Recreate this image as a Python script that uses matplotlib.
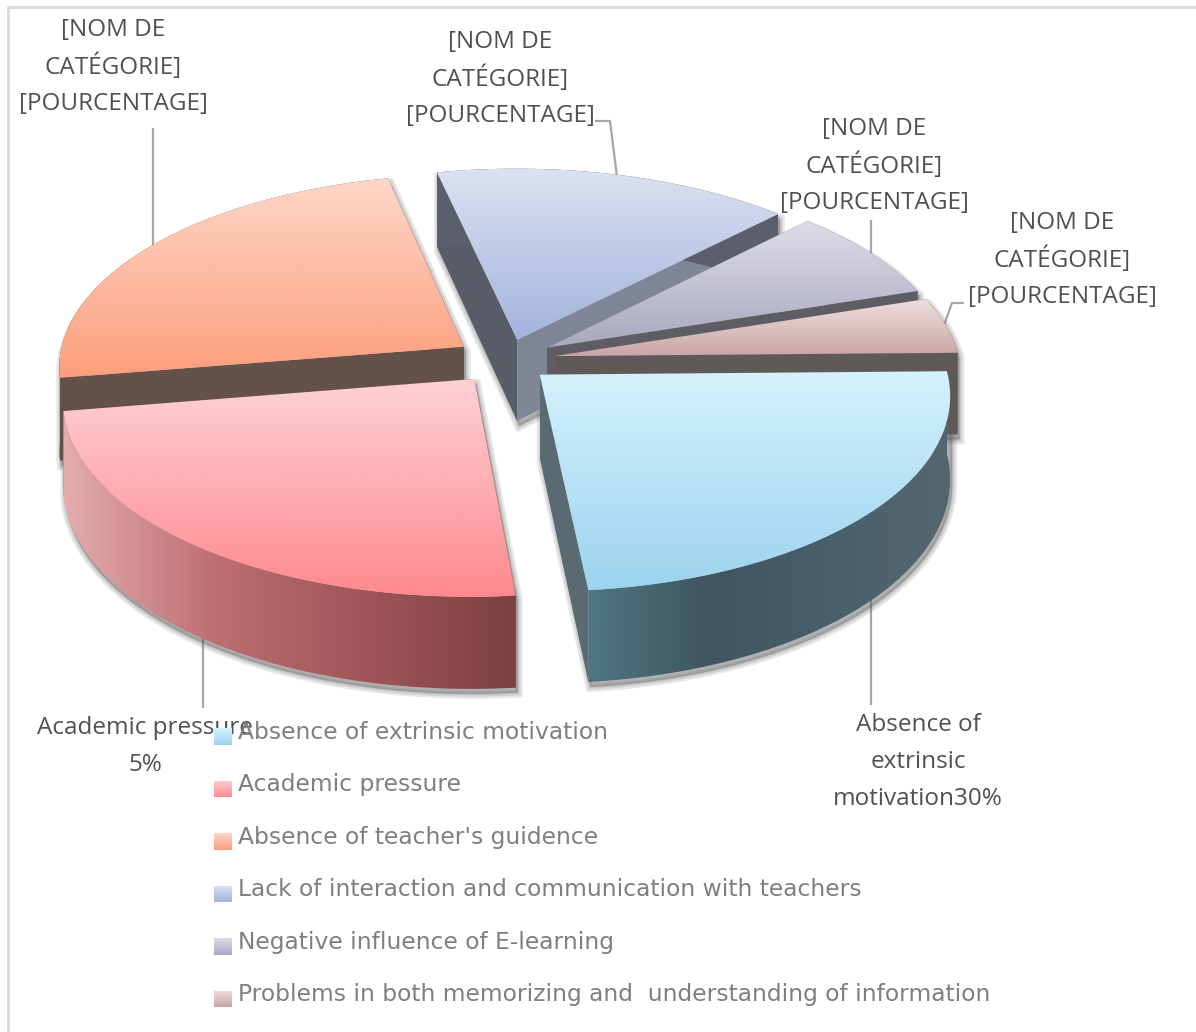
import numpy as np
import matplotlib
matplotlib.use('Agg')
import matplotlib.pyplot as plt
from matplotlib.colors import LinearSegmentedColormap
from matplotlib.path import Path

categories = ['Absence of extrinsic motivation', 'Academic pressure', "Absence of teacher's guidence",
              'Lack of interaction and communication with teachers', 'Negative influence of E-learning',
              'Problems in both memorizing and  understanding of information']
shares = [23.7, 24.0, 24.1, 15.8, 7.7, 4.7]

# the two filled-in captions are typed text, they are not computed from shares
labels = [['Absence of', 'extrinsic', 'motivation30%'],
          ['Academic pressure', '5%'],
          ['[NOM DE', 'CATÉGORIE]', '[POURCENTAGE]'],
          ['[NOM DE', 'CATÉGORIE]', '[POURCENTAGE]'],
          ['[NOM DE', 'CATÉGORIE]', '[POURCENTAGE]'],
          ['[NOM DE', 'CATÉGORIE]', '[POURCENTAGE]']]
label_x = [918, 145, 113, 500, 874, 1062]
label_y = [725, 728, 30, 42, 129, 223]

leaders = [[(871, 600), (871, 705)],
           [(203, 630), (203, 708)],
           [(153, 128), (153, 260)],
           [(595, 121), (610, 121), (618, 185)],
           [(871, 220), (871, 270)],
           [(964, 303), (952, 303), (943, 328)]]

explode = [46, 50, 50, 45, 50, 50]
top_colors = [('#d5f2fd', '#9cd3ee'), ('#fed2d5', '#fe898e'), ('#fdd7c8', '#fd9e7b'),
              ('#dce2f2', '#a3b3dc'), ('#dddde9', '#a8a8be'), ('#f0dfdf', '#c9a5a6')]
rim_colors = [['#507582', '#3f5661', '#47606b', '#57666e'],
              ['#e3adae', '#bd6f71', '#a05558', '#7c4142'],
              ['#64524a', '#64524a'], ['#5a5f6b', '#5a5f6b'],
              ['#5f5c64', '#5f5c64'], ['#5f5a58', '#5f5a58']]
wall_colors = [('#4a5a62', '#5a6a72'), ('#7c4142', '#8a5052'), ('#64524a', '#64524a'),
               ('#585d68', '#7f8695'), ('#5f5c64', '#5f5c64'), ('#5f5a58', '#5f5a58')]
draw_order = [3, 4, 5, 2, 0, 1]

CX, CY = 505, 360
RX, RY = 405, 192
PERSP = 0.10
DEPTH = 82
START = -1.0

fig = plt.figure(figsize=(11.96, 10.32), dpi=100)
ax = fig.add_axes([0, 0, 1, 1])
ax.set_axis_off()


def project(px, py, drop=0.0):
    # flat disc seen from the front, near side a little larger than the far side
    s = 1 / (1 - PERSP * py)
    return CX + RX * px * s, CY + (RY * py + drop) * s


def fill(points, colors, z, horizontal=False):
    points = np.array(points)
    x0, y0 = points.min(axis=0)
    x1, y1 = points.max(axis=0)
    cmap = LinearSegmentedColormap.from_list('face', list(colors))
    ramp = np.linspace(0, 1, 256)
    ramp = ramp.reshape(1, -1) if horizontal else ramp.reshape(-1, 1)
    im = ax.imshow(ramp, cmap=cmap, extent=(x0, x1, y1, y0), origin='upper', aspect='auto',
                   interpolation='bilinear', zorder=z)
    closed = np.vstack([points, points[0]])
    im.set_clip_path(Path(closed), ax.transData)


def hull(points):
    pts = sorted(set(map(tuple, np.round(points, 2))))

    def half(seq):
        out = []
        for p in seq:
            while len(out) > 1 and ((out[-1][0] - out[-2][0]) * (p[1] - out[-2][1])
                                    - (out[-1][1] - out[-2][1]) * (p[0] - out[-2][0])) <= 0:
                out.pop()
            out.append(p)
        return out[:-1]
    return np.array(half(pts) + half(pts[::-1]))


edges = START + np.cumsum([0] + shares) * 3.6
slices = []
for i in range(len(shares)):
    t0, t1 = edges[i], edges[i + 1]
    mid = np.radians((t0 + t1) / 2)
    ex = explode[i] / RX * np.cos(mid)
    ey = explode[i] / RX * np.sin(mid)
    ts = np.radians(np.linspace(t0, t1, 90))
    top = np.column_stack(project(ex + np.cos(ts), ey + np.sin(ts)))
    bottom = np.column_stack(project(ex + np.cos(ts), ey + np.sin(ts), DEPTH))
    slices.append(dict(top=top, bottom=bottom, apex=project(ex, ey), apex_low=project(ex, ey, DEPTH)))

# soft shadow below the slices
for s in slices:
    outline = hull(np.vstack([s['top'], s['bottom'], [s['apex']], [s['apex_low']]]))
    for lw in [7, 4, 1.5]:
        ax.fill(outline[:, 0] + 2, outline[:, 1] + 5, color='#555555', alpha=0.14, lw=lw, zorder=2)

for line in leaders:
    xs, ys = zip(*line)
    ax.plot(xs, ys, color='#a6a6a6', lw=1.6, zorder=1, solid_capstyle='butt')

z = 3
for i in draw_order:
    s = slices[i]
    fill([s['apex'], s['top'][0], s['bottom'][0], s['apex_low']], (wall_colors[i][0], wall_colors[i][0]), z)
    fill([s['apex'], s['top'][-1], s['bottom'][-1], s['apex_low']], (wall_colors[i][1], wall_colors[i][1]), z)
    fill(np.vstack([s['top'], s['bottom'][::-1]]), rim_colors[i], z + 1, horizontal=True)
    fill(np.vstack([[s['apex']], s['top']]), top_colors[i], z + 2)
    z += 3

# chart frame, the right and bottom sides run off the canvas
ax.plot([8, 8, 1196], [1032, 7, 7], color='#d9d9d9', lw=2, zorder=1)

for lines, x, y in zip(labels, label_x, label_y):
    for k, line in enumerate(lines):
        ax.text(x, y + 37 * k, line, family='Open Sans', fontsize=17.5, color='#505050',
                ha='center', va='center', zorder=40)

for i, name in enumerate(categories):
    y = 736 + 52.5 * i
    fill([(214, y - 8), (232, y - 8), (232, y + 9), (214, y + 9)], top_colors[i], 50)
    ax.text(238, y - 3.5, name, family='DejaVu Sans', fontsize=16.85, color='#7f7f7f',
            ha='left', va='center', zorder=45)

ax.set_xlim(0, 1196)
ax.set_ylim(1032, 0)
fig.savefig('out.png', dpi=100, facecolor='white')
